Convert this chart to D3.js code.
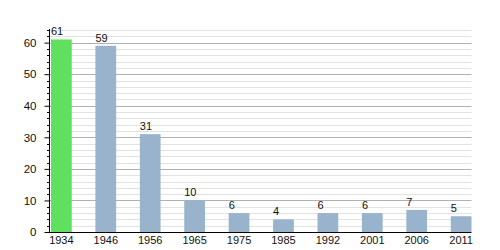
<!DOCTYPE html>
<html>
<head>
<meta charset="UTF-8">
<title></title>
<style>
  body { margin: 0; background: #fff; }
  svg text { font-family: 'Liberation Sans', Arial, sans-serif; font-size: 11px; fill: #111; }
</style>
</head>
<body>
<div id="container"></div>
<script src="https://d3js.org/d3.v7.min.js"></script>
<script>
  // data
  var years = ["1934", "1946", "1956", "1965", "1975", "1985", "1992", "2001", "2006", "2011"];
  var values = [61, 59, 31, 10, 6, 4, 6, 6, 7, 5];
  var yTicks = [0, 10, 20, 30, 40, 50, 60];
  var yMinor = d3.range(0, 65, 2);

  var plotLeft = 50, plotRight = 471.5, plotTop = 30, plotBottom = 232;

  var svg = d3.select("#container").append("svg")
      .attr("width", 500)
      .attr("height", 250);

  var x = d3.scaleBand()
      .domain(years)
      .range([plotLeft + 1, plotRight])
      .paddingInner(0.533)
      .paddingOuter(0);

  var y = d3.scaleLinear()
      .domain([0, 64])
      .range([plotBottom, plotTop]);

  var minorOnly = yMinor.filter(function(d) { return d % 10 != 0; });

  // minor grid
  svg.append("g").selectAll("line")
    .data(minorOnly)
    .enter().append("line")
      .attr("x1", plotLeft).attr("x2", plotRight)
      .attr("y1", function(d) { return Math.round(y(d)) + 0.5; })
      .attr("y2", function(d) { return Math.round(y(d)) + 0.5; })
      .attr("stroke", "#e2e2e2");

  // major grid
  svg.append("g").selectAll("line")
    .data(yTicks.filter(function(d) { return d > 0; }))
    .enter().append("line")
      .attr("x1", plotLeft).attr("x2", plotRight)
      .attr("y1", function(d) { return Math.round(y(d)) + 0.5; })
      .attr("y2", function(d) { return Math.round(y(d)) + 0.5; })
      .attr("stroke", "#b0b0b0");

  // bars
  svg.append("g").selectAll("rect")
    .data(values)
    .enter().append("rect")
      .attr("x", function(d, i) { return x(years[i]); })
      .attr("y", function(d) { return y(d); })
      .attr("width", x.bandwidth())
      .attr("height", function(d) { return plotBottom - y(d); })
      .attr("fill", function(d, i) { return i == 0 ? "#5fe05f" : "#99b3cd"; });

  // value labels
  svg.append("g").selectAll("text")
    .data(values)
    .enter().append("text")
      .attr("x", function(d, i) { return x(years[i]); })
      .attr("y", function(d) { return y(d) - 4; })
      .text(function(d) { return d; });

  // y axis
  var yAxis = d3.axisLeft(y).tickValues(yTicks).tickSize(5).tickPadding(8);
  var gy = svg.append("g").attr("transform", "translate(" + (plotLeft - 0.5) + ",0)").call(yAxis);
  gy.select(".domain").remove();
  gy.selectAll("text").style("font-size", "11.5px").attr("fill", "#111");
  gy.selectAll("line").attr("stroke", "#000");

  svg.append("g").selectAll("line")
    .data(minorOnly)
    .enter().append("line")
      .attr("x1", plotLeft - 3).attr("x2", plotLeft)
      .attr("y1", function(d) { return Math.round(y(d)) + 0.5; })
      .attr("y2", function(d) { return Math.round(y(d)) + 0.5; })
      .attr("stroke", "#000");

  svg.append("line")
    .attr("x1", plotLeft - 0.5).attr("x2", plotLeft - 0.5)
    .attr("y1", plotTop - 1).attr("y2", plotBottom)
    .attr("stroke", "#000");

  // x axis
  var xAxis = d3.axisBottom(x).tickSize(0).tickPadding(4);
  var gx = svg.append("g").attr("transform", "translate(0," + plotBottom + ")").call(xAxis);
  gx.select(".domain").remove();
  gx.selectAll("text").style("font-size", "11px").attr("fill", "#111");

  svg.append("line")
    .attr("x1", plotLeft - 1).attr("x2", plotRight)
    .attr("y1", plotBottom + 0.5).attr("y2", plotBottom + 0.5)
    .attr("stroke", "#000");
</script>
</body>
</html>
